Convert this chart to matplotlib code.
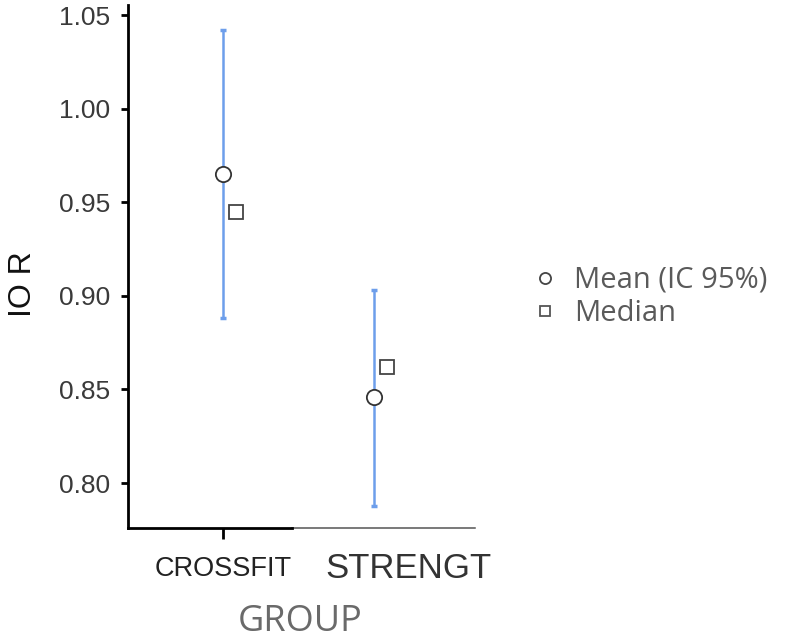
import matplotlib.pyplot as plt
from matplotlib.lines import Line2D

# Data
groups = ['CROSSFIT', 'STRENGT']
means = [0.965, 0.846]
ci_low = [0.888, 0.788]
ci_high = [1.042, 0.903]
medians = [0.945, 0.862]
yticks = [0.80, 0.85, 0.90, 0.95, 1.00, 1.05]

blue = '#6d9eeb'
tick_col = '#3a3a3a'

fig = plt.figure(figsize=(8, 6.39), dpi=100)
ax = fig.add_axes([0.16, 0.1737, 0.434, 0.8183])

x = list(range(len(groups)))
err_lo = [m - l for m, l in zip(means, ci_low)]
err_hi = [h - m for m, h in zip(means, ci_high)]
ax.errorbar(x, means, yerr=[err_lo, err_hi], fmt='none', ecolor=blue,
            elinewidth=1.8, capsize=2.5, capthick=2.5, zorder=2)
ax.plot(x, means, 'o', ms=11, mfc='white', mec='#333333', mew=1.3, zorder=3)
ax.plot([i + 0.085 for i in x], medians, 's', ms=9.5, mfc='white', mec='#444444',
        mew=1.3, zorder=3)

ax.set_xlim(-0.63, 1.67)
ax.set_ylim(0.776, 1.0553)
ax.set_yticks(yticks)
ax.set_yticklabels([f'{v:.2f}' for v in yticks], fontsize=19,
                   family='Liberation Sans', color=tick_col)

ax.set_xticks([0])
ax.set_xticklabels([groups[0]], fontsize=19.5, family='Liberation Sans', color='#222222')
ax.text(1.225, -0.045, groups[1], transform=ax.get_xaxis_transform(), ha='center', va='top',
        fontsize=25, family='Liberation Sans', color='#333333')

for s in ['top', 'right']:
    ax.spines[s].set_visible(False)
ax.spines['left'].set_linewidth(2)
ax.spines['bottom'].set_linewidth(2)
ax.spines['bottom'].set_bounds(-0.63, 0.455)
ax.plot([0.455, 1.67], [0.776, 0.776], color='#555555', lw=1.1, clip_on=False)
ax.tick_params(axis='y', length=5, width=2, pad=8)
ax.tick_params(axis='x', length=8, width=2, pad=12)

ax.set_ylabel('IO R', fontsize=23, family='Liberation Sans', color='#111111')
ax.yaxis.set_label_coords(-0.258, 0.467)
ax.set_xlabel('GROUP', fontsize=26, family='Open Sans', color='#6a6a6a')
ax.xaxis.set_label_coords(0.497, -0.145)

handles = [
    Line2D([], [], ls='none', marker='o', ms=8, mfc='white', mec='#444444', mew=1.3),
    Line2D([], [], ls='none', marker='s', ms=7.5, mfc='white', mec='#555555', mew=1.3),
]
fig.legend(handles, ['Mean (IC 95%)', 'Median'], loc='center left',
           bbox_to_anchor=(0.63, 0.535), frameon=False, handletextpad=0.5,
           labelspacing=0.15, prop={'family': 'Open Sans', 'size': 21},
           labelcolor='#5a5a5a', handlelength=1.0)

fig.savefig('out.png', dpi=100)
